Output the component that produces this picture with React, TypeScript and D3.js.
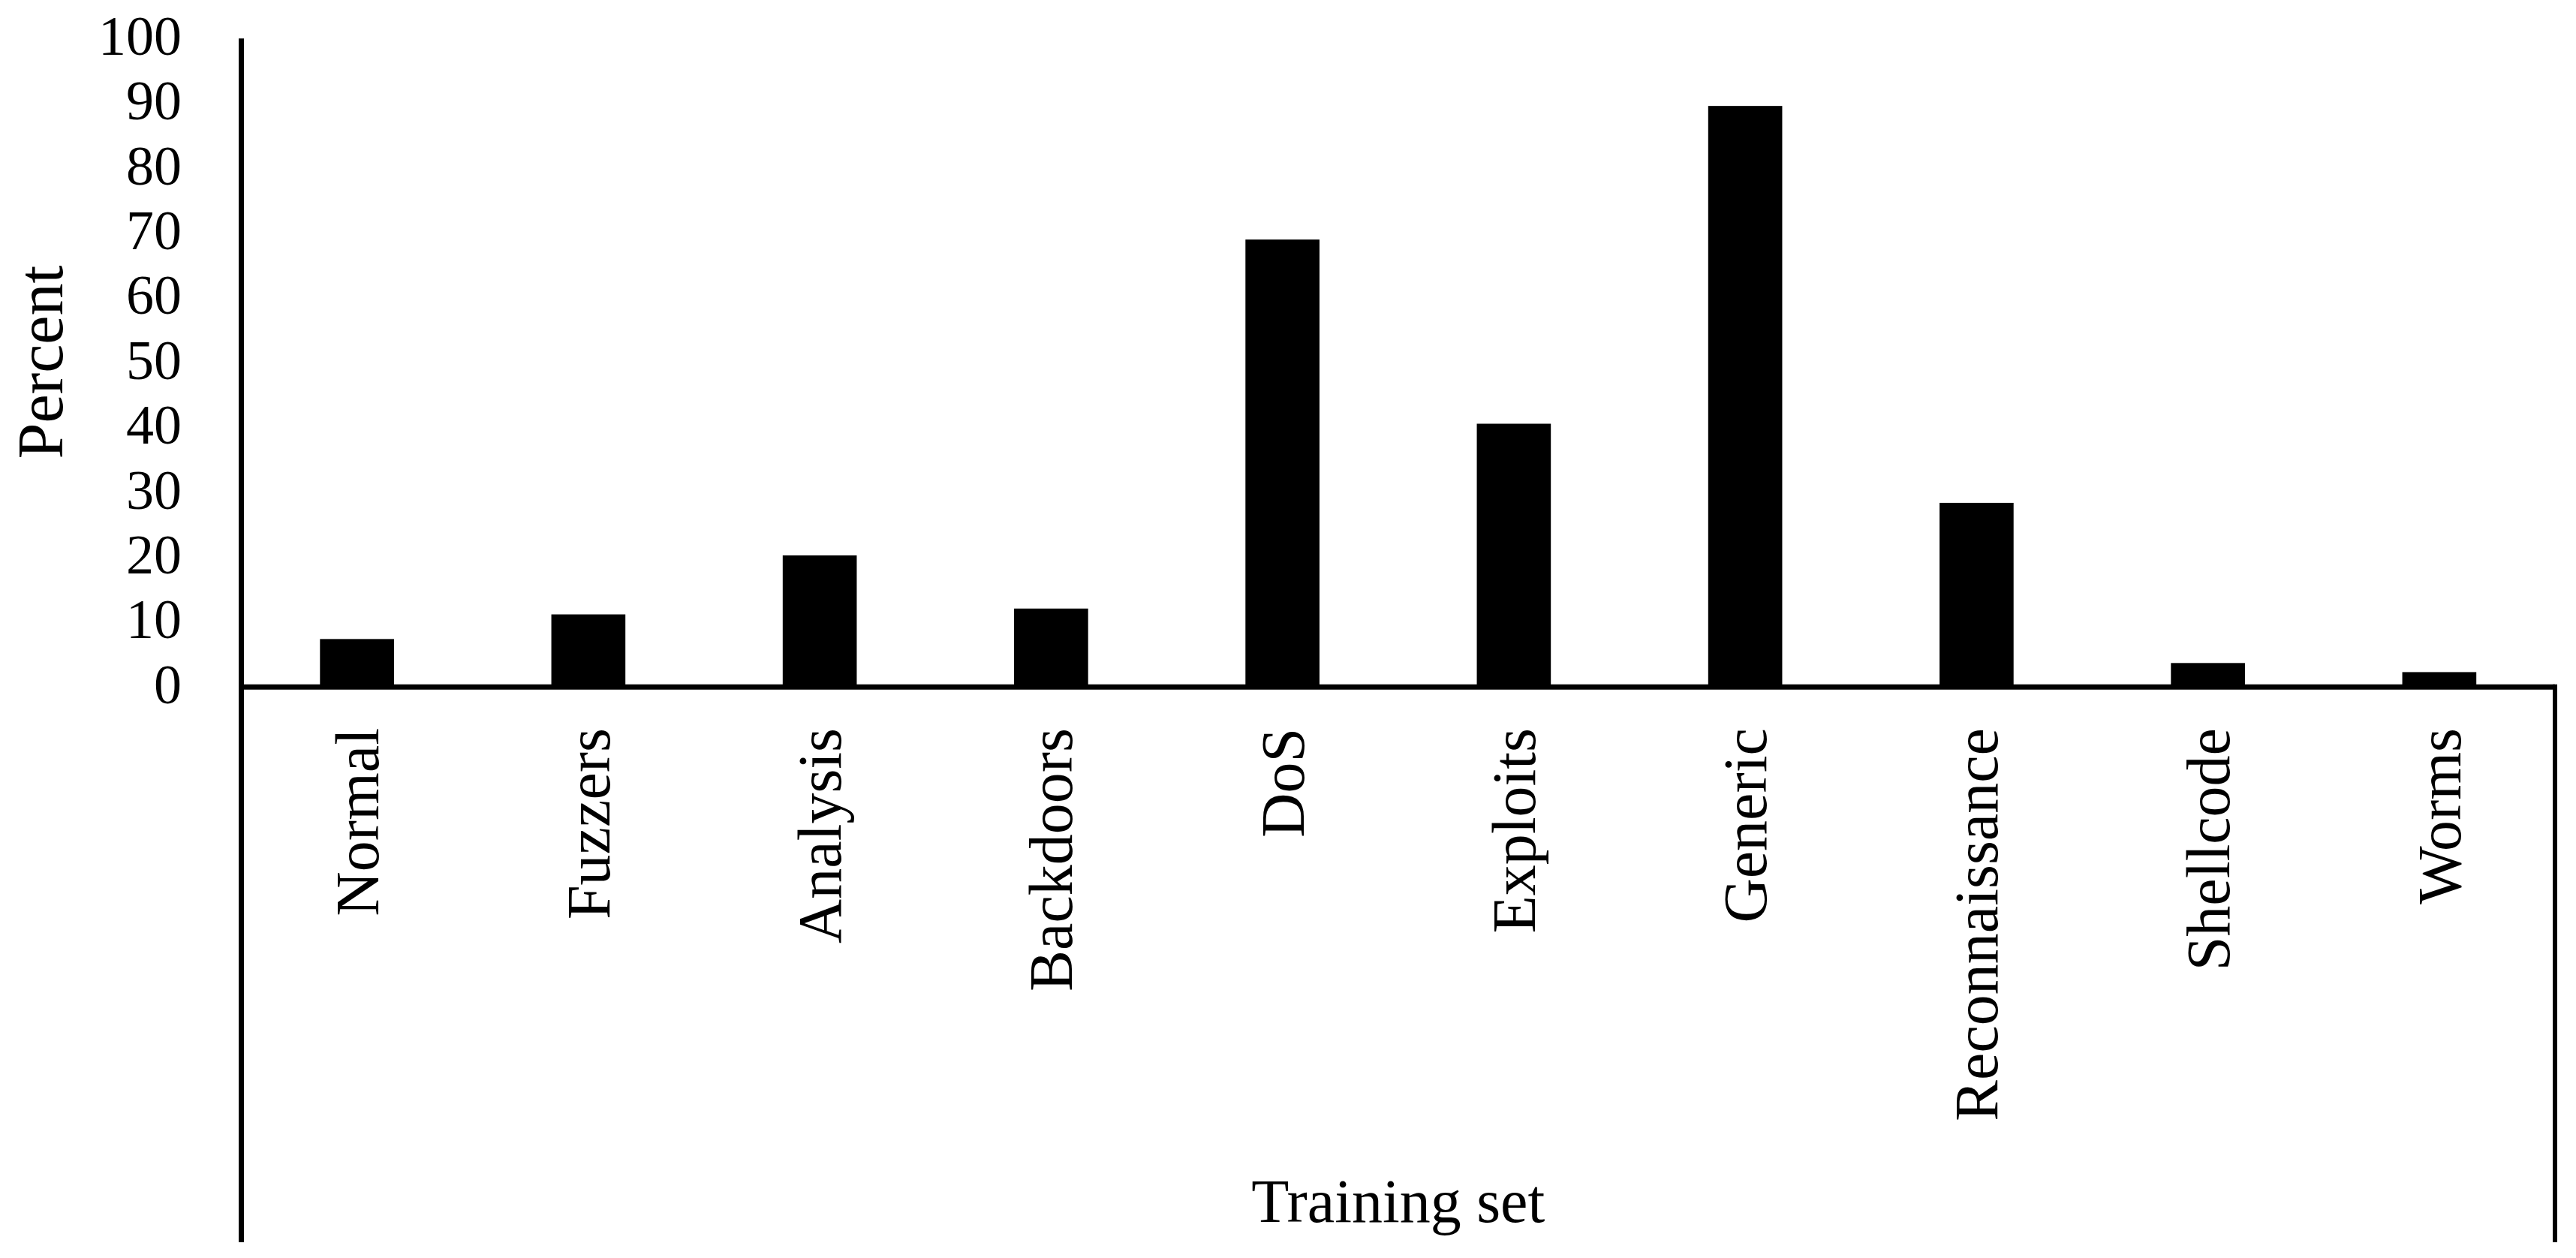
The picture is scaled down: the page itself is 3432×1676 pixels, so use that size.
import React from "react";
import * as d3 from "d3";

const categories = ["Normal", "Fuzzers", "Analysis", "Backdoors", "DoS", "Exploits", "Generic", "Reconnaissance", "Shellcode", "Worms"];
const percentValues = [7.4, 11.2, 20.3, 12.1, 69.0, 40.6, 89.6, 28.4, 3.7, 2.3];
const yTicks = [0, 10, 20, 30, 40, 50, 60, 70, 80, 90, 100];
const xTitle = "Training set";
const yTitle = "Percent";

const W = 3432;
const H = 1676;
const left = 321.5;
const right = 3404;
const top = 51.3;
const zeroY = 915.3;
const bottomY = 1655;
const font = "'Liberation Serif', 'Times New Roman', serif";

export default function App() {
  const x = d3.scaleBand<string>().domain(categories).range([left, right]).paddingInner(0.68).paddingOuter(0.34);
  const y = d3.scaleLinear().domain([0, 100]).range([zeroY, top]);

  return (
    <svg width={W} height={H} style={{ position: "absolute", left: 0, top: 0, background: "#fff" }}>
      <rect x={0} y={0} width={W} height={H} fill="#fff" />
      {categories.map((c, i) => (
        <rect key={c} x={x(c)!} y={y(percentValues[i])} width={x.bandwidth()} height={zeroY - y(percentValues[i])} fill="#000" />
      ))}
      {/* axes */}
      <line x1={left} x2={left} y1={top} y2={bottomY} stroke="#000" strokeWidth={7} />
      <line x1={left} x2={right} y1={zeroY} y2={zeroY} stroke="#000" strokeWidth={7} />
      <line x1={right} x2={right} y1={zeroY - 3.5} y2={bottomY} stroke="#000" strokeWidth={6} />
      {yTicks.map((t) => (
        <text key={t} x={242} y={y(t)} dy="0.29em" textAnchor="end" fontFamily={font} fontSize={74} fill="#000">
          {t}
        </text>
      ))}
      {categories.map((c) => (
        <text
          key={c}
          transform={`translate(${x(c)! + x.bandwidth() / 2},970) rotate(-90)`}
          y={28}
          textAnchor="end"
          fontFamily={font}
          fontSize={82}
          fill="#000"
        >
          {c}
        </text>
      ))}
      <text x={(left + right) / 2} y={1628} textAnchor="middle" fontFamily={font} fontSize={82} fill="#000">
        {xTitle}
      </text>
      <text transform={`translate(83,482.5) rotate(-90)`} textAnchor="middle" fontFamily={font} fontSize={86} fill="#000">
        {yTitle}
      </text>
    </svg>
  );
}
